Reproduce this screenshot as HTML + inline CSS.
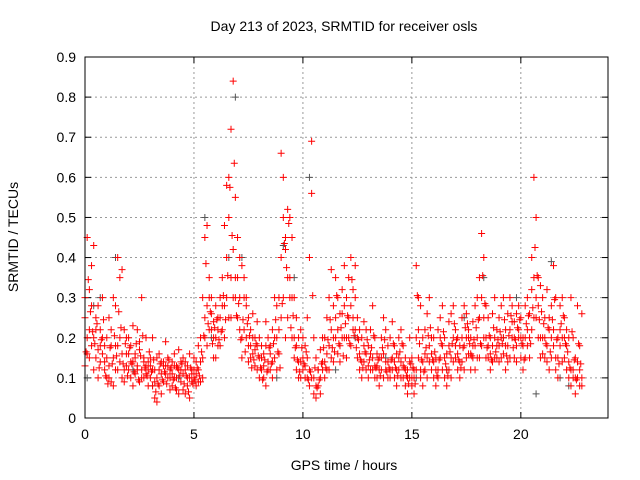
<!DOCTYPE html>
<html><head><meta charset="utf-8"><style>
body{margin:0;background:#fff;}
svg{display:block;font-family:"Liberation Sans",sans-serif;}
</style></head><body>
<svg id="chart" width="640" height="480">
<text x="344" y="31" font-size="14" text-anchor="middle">Day 213 of 2023, SRMTID for receiver osls</text>
<text x="344" y="470" font-size="14" text-anchor="middle">GPS time / hours</text>
<text x="0" y="0" font-size="14" text-anchor="middle" transform="translate(18,237) rotate(-90)">SRMTID / TECUs</text>
<g id="grid"></g>
<g id="ticks"></g>
<g id="gray"></g>
<g id="red"></g>
<rect x="85" y="57" width="523" height="361" fill="none" stroke="#000" stroke-width="1"/>
</svg>
<script>
const xTicks=[0,5,10,15,20];
const yTicks=[0,0.1,0.2,0.3,0.4,0.5,0.6,0.7,0.8,0.9];
const yTickLabels=["0","0.1","0.2","0.3","0.4","0.5","0.6","0.7","0.8","0.9"];
const sampleStart=0;
const sampleStep=0.1;
const offsetStart=0.05;
const redA=[.13,.16,.22,.18,.2,.15,.17,.14,.2,.12,
.1,.13,.09,.15,.12,.18,.14,.1,.12,.16,
.12,.1,.14,.11,.13,.09,.12,.1,.13,.08,
.1,.12,.05,.04,.08,.11,.09,.13,.1,.07,
.08,.1,.07,.12,.09,.11,.06,.08,.1,.09,
.1,.08,.12,.09,.15,.2,.28,.3,.22,.2,
.2,.18,.25,.22,.28,.3,.25,.35,.3,.35,
.25,.22,.2,.3,.28,.18,.15,.2,.13,.18,
.15,.12,.1,.18,.14,.12,.1,.15,.2,.22,
.25,.3,.2,.35,.3,.2,.15,.12,.1,.14,
.12,.1,.15,.08,.1,.06,.05,.08,.1,.12,
.14,.12,.18,.15,.2,.25,.22,.18,.2,.28,
.2,.25,.18,.22,.3,.15,.12,.1,.14,.12,
.1,.12,.15,.13,.1,.08,.12,.16,.14,.1,
.12,.15,.1,.08,.12,.14,.1,.08,.06,.1,
.08,.06,.12,.15,.1,.08,.12,.15,.18,.12,
.1,.08,.12,.15,.18,.1,.08,.12,.15,.2,
.15,.12,.1,.14,.18,.2,.16,.12,.15,.18,
.2,.15,.18,.25,.2,.15,.12,.18,.2,.15,
.18,.15,.2,.12,.18,.22,.2,.15,.18,.2,
.15,.12,.2,.18,.15,.22,.25,.3,.28,.2,
.2,.15,.18,.12,.2,.22,.15,.1,.18,.2,
.15,.12,.1,.08,.12,.06,.1,.08,.1];
const redB=[.3,.45,.32,.38,.43,.25,.28,.22,.3,.18,
.2,.25,.18,.3,.28,.4,.35,.37,.22,.2,
.2,.18,.23,.16,.22,.19,.3,.15,.2,.14,
.15,.2,.12,.15,.16,.14,.13,.19,.15,.12,
.14,.16,.13,.17,.12,.15,.14,.13,.16,.12,
.15,.14,.18,.2,.3,.45,.48,.35,.3,.24,
.28,.25,.3,.35,.48,.58,.6,.72,.84,.55,
.45,.4,.38,.35,.3,.25,.22,.26,.2,.24,
.2,.18,.16,.24,.2,.18,.22,.3,.28,.3,
.66,.6,.42,.52,.5,.45,.3,.25,.2,.22,
.2,.18,.25,.4,.69,.2,.15,.12,.17,.2,
.2,.25,.3,.37,.28,.35,.3,.26,.32,.38,
.3,.35,.4,.32,.38,.25,.22,.2,.24,.22,
.18,.22,.28,.2,.16,.15,.2,.25,.22,.18,
.2,.24,.18,.16,.2,.22,.18,.15,.12,.2,
.15,.12,.38,.3,.28,.2,.22,.26,.3,.2,
.2,.15,.22,.25,.28,.2,.16,.24,.26,.28,
.22,.2,.18,.25,.28,.26,.22,.2,.24,.28,
.3,.35,.46,.4,.28,.25,.2,.26,.3,.22,
.25,.28,.3,.22,.26,.3,.28,.24,.26,.28,
.25,.2,.28,.3,.26,.4,.6,.5,.35,.33,
.3,.25,.32,.22,.28,.38,.3,.2,.28,.3,
.25,.22,.2,.3,.2,.15,.28,.18,.26];
const redC=[.25,.2,.15,.28,.12,.22,.1,.18,.16,.14,
.15,.1,.22,.08,.18,.12,.2,.16,.09,.13,
.16,.14,.08,.15,.12,.17,.1,.14,.11,.12,
.13,.08,.09,.1,.12,.06,.14,.11,.13,.1,
.11,.13,.1,.06,.14,.07,.12,.1,.05,.11,
.12,.11,.09,.14,.1,.25,.18,.22,.26,.15,
.15,.22,.18,.28,.2,.4,.5,.25,.42,.3,
.35,.3,.15,.22,.2,.14,.18,.16,.17,.12,
.1,.15,.13,.08,.12,.16,.14,.2,.12,.16,
.4,.5,.45,.25,.35,.3,.2,.18,.14,.1,
.15,.13,.1,.12,.56,.1,.08,.12,.06,.14,
.1,.16,.12,.22,.14,.2,.16,.14,.26,.2,
.15,.2,.28,.25,.22,.2,.16,.14,.18,.16,
.13,.16,.12,.1,.13,.12,.15,.1,.12,.14,
.1,.12,.14,.12,.15,.1,.13,.12,.1,.14,
.1,.1,.2,.22,.12,.14,.16,.1,.14,.16,
.14,.12,.1,.2,.12,.15,.12,.18,.1,.14,
.18,.16,.14,.2,.12,.15,.2,.16,.18,.12,
.15,.25,.3,.2,.15,.18,.16,.14,.15,.18,
.14,.2,.16,.18,.14,.15,.24,.2,.14,.22,
.2,.18,.15,.22,.2,.32,.35,.25,.2,.15,
.16,.2,.14,.25,.15,.18,.12,.15,.22,.14,
.2,.18,.14,.12,.1,.1,.14,.12,.08];
const redD=[.165,.345,.265,.215,.185,.235,.125,.195,.245,.105,
.085,.175,.135,.205,.155,.265,.225,.135,.185,.105,
.175,.135,.115,.185,.095,.155,.205,.125,.105,.165,
.115,.145,.065,.085,.135,.095,.115,.085,.145,.125,
.095,.075,.125,.105,.135,.085,.105,.065,.125,.085,
.095,.125,.105,.165,.205,.385,.235,.265,.185,.225,
.245,.195,.215,.305,.245,.355,.575,.455,.635,.255,
.285,.195,.245,.165,.235,.205,.125,.145,.185,.155,
.125,.095,.145,.115,.175,.135,.185,.245,.165,.125,
.285,.435,.375,.485,.225,.255,.175,.145,.115,.175,
.135,.165,.095,.115,.305,.125,.075,.095,.135,.175,
.125,.195,.245,.175,.165,.305,.185,.225,.155,.235,
.255,.185,.345,.205,.175,.195,.145,.125,.165,.195,
.145,.175,.205,.125,.145,.105,.175,.195,.115,.125,
.145,.185,.125,.105,.165,.185,.125,.105,.085,.135,
.125,.085,.305,.185,.145,.115,.175,.205,.225,.145,
.165,.105,.145,.185,.215,.135,.105,.165,.185,.235,
.195,.145,.125,.175,.225,.235,.185,.155,.195,.225,
.245,.185,.355,.285,.175,.205,.145,.225,.165,.195,
.215,.185,.245,.155,.205,.255,.175,.195,.225,.245,
.185,.145,.235,.255,.185,.275,.425,.355,.245,.265,
.235,.185,.225,.165,.245,.295,.195,.135,.235,.255,
.185,.165,.125,.215,.145,.095,.185,.135];
const grayT=[0.1,0.4,0.7,1.4,2.2,3.1,4.3,5.5,5.8,6.6,6.9,7.2,8.8,9.1,9.6,10.3,11.5,12.4,13.8,15.2,16.6,17.4,18.3,19.2,19.8,20.7,21.4,21.8,22.2];
const grayV=[0.1,0.28,0.3,0.4,0.12,0.08,0.1,0.5,0.2,0.4,0.8,0.4,0.1,0.43,0.35,0.6,0.12,0.2,0.15,0.1,0.12,0.25,0.35,0.2,0.3,0.06,0.39,0.1,0.08];

const X0=85,X1=608,Y0=418,Y1=57,XMAX=24,YMAX=0.9;
const sx=v=>X0+(X1-X0)*v/XMAX;
const sy=v=>Y0-(Y0-Y1)*v/YMAX;
const NS="http://www.w3.org/2000/svg";
function mk(tag,attrs,parent){const e=document.createElementNS(NS,tag);for(const k in attrs)e.setAttribute(k,attrs[k]);parent.appendChild(e);return e;}
const grid=document.getElementById('grid'),ticks=document.getElementById('ticks');
xTicks.forEach(t=>{
 const x=sx(t);
 if(t>0){const l=mk('line',{x1:x,y1:Y1,x2:x,y2:Y0,stroke:'#999','stroke-dasharray':'2,3','stroke-width':1},grid);
 
 }
 mk('line',{x1:x,y1:Y0,x2:x,y2:Y0-6,stroke:'#000'},ticks);
 mk('line',{x1:x,y1:Y1,x2:x,y2:Y1+6,stroke:'#000'},ticks);
 const tx=mk('text',{x:x,y:Y0+21,'font-size':14,'text-anchor':'middle'},ticks);tx.textContent=t;
 
 
});
yTicks.forEach((t,i)=>{
 const y=sy(t);
 if(t>0&&t<YMAX){const l=mk('line',{x1:X0,y1:y,x2:X1,y2:y,stroke:'#999','stroke-dasharray':'2,3','stroke-width':1},grid);
 
 }
 mk('line',{x1:X0,y1:y,x2:X0+6,y2:y,stroke:'#000'},ticks);
 mk('line',{x1:X1,y1:y,x2:X1-6,y2:y,stroke:'#000'},ticks);
 const tx=mk('text',{x:X0-9,y:y+5,'font-size':14,'text-anchor':'end'},ticks);tx.textContent=yTickLabels[i];
 
 
});
function plus(g,t,v,color){
 const x=sx(t),y=sy(v);
 const p=mk('path',{d:`M${x-3.5},${y}h7M${x},${y-3.5}v7`,stroke:color,'stroke-width':1,fill:'none'},g);
 
 
}
const gg=document.getElementById('gray'),rg=document.getElementById('red');
grayT.forEach((t,i)=>plus(gg,t,grayV[i],'#555'));
[redA,redB,redC].forEach(arr=>arr.forEach((v,i)=>plus(rg,sampleStart+i*sampleStep,v,'#f00')));
redD.forEach((v,i)=>plus(rg,offsetStart+i*sampleStep,v,'#f00'));
</script>
</body></html>
